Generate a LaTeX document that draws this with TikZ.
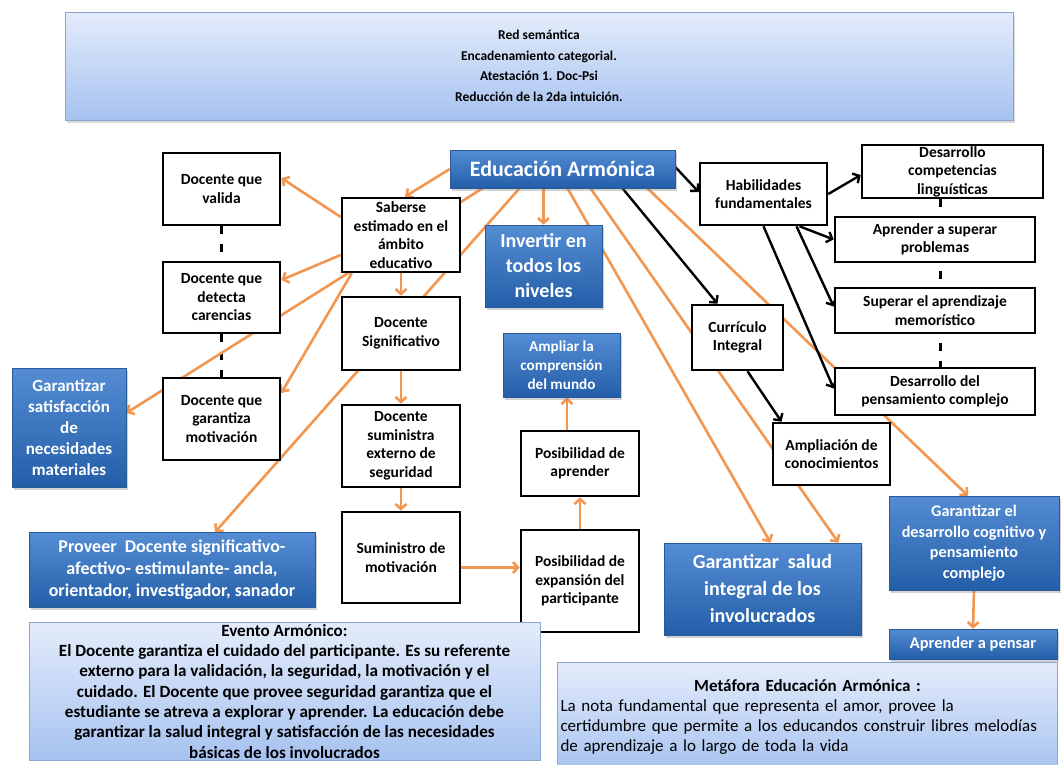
\documentclass[tikz,border=0pt]{standalone}
\usepackage{fontspec}
\setmainfont{Carlito}
\usetikzlibrary{arrows.meta,shadows,backgrounds}

\definecolor{naranja}{RGB}{243,150,80}
\definecolor{azulArriba}{RGB}{84,141,212}
\definecolor{azulAbajo}{RGB}{36,94,168}
\definecolor{azulBorde}{RGB}{40,90,150}
\definecolor{celesteArriba}{RGB}{228,236,251}
\definecolor{celesteAbajo}{RGB}{166,194,240}
\definecolor{celesteBorde}{RGB}{140,165,205}

\begin{document}
\begin{tikzpicture}[x=1pt,y=-1pt,
    caja/.style={draw=black,line width=2.6pt,fill=white,align=center,inner sep=0pt,
      font=\bfseries\fontsize{15.5}{18.5}\selectfont},
    azul/.style={draw=azulBorde,line width=0.6pt,top color=azulArriba,bottom color=azulAbajo,
      text=white,align=center,inner sep=0pt,
      drop shadow={shadow xshift=2pt,shadow yshift=-2.5pt,opacity=0.35}},
    nota/.style={draw=celesteBorde,line width=0.6pt,top color=celesteArriba,
      bottom color=celesteAbajo,inner sep=0pt},
    flecha/.style={draw=naranja,line width=2.6pt,-{Straight Barb[length=5pt,width=11pt]}},
    flechaNegra/.style={draw=black,line width=2.4pt,-{Straight Barb[length=5pt,width=11pt]}},
    guion/.style={draw=black,line width=3pt,dash pattern=on 8pt off 10pt},
  ]
  \useasboundingbox (0,0) rectangle (1061,764);

  % Encabezado
  \node[nota,align=center,minimum width=948pt,minimum height=108pt,
    drop shadow={shadow xshift=2pt,shadow yshift=-2.5pt,opacity=0.3},
    font=\bfseries\fontsize{13.5}{20.5}\selectfont] (titulo) at (539,66)
    {Red semántica\\Encadenamiento categorial.\\Atestación 1. Doc-Psi\\Reducción de la 2da intuición.};

  % Nodo central
  \node[azul,minimum width=225pt,minimum height=38pt,font=\bfseries\fontsize{22}{24}\selectfont]
    (educacion) at (562.5,169) {Educación Armónica};

  % Docentes a la izquierda
  \node[caja,minimum width=117pt,minimum height=72pt] (valida) at (221.5,189) {Docente que\\valida};
  \node[caja,minimum width=117pt,minimum height=71pt] (detecta) at (221.5,297.5) {Docente que\\detecta\\carencias};
  \node[caja,minimum width=117pt,minimum height=82pt] (garantiza) at (221.5,419) {Docente que\\garantiza\\motivación};
  \node[azul,minimum width=114pt,minimum height=119pt,font=\bfseries\fontsize{17}{21}\selectfont]
    (satisfaccion) at (69,427.5) {Garantizar\\satisfacción\\de\\necesidades\\materiales};

  % Cadena del docente
  \node[caja,minimum width=118pt,minimum height=74pt] (saberse) at (401,235) {Saberse\\estimado en el\\ámbito\\educativo};
  \node[caja,minimum width=118pt,minimum height=73pt] (significativo) at (401,333.5) {Docente\\Significativo};
  \node[caja,minimum width=118pt,minimum height=82pt] (seguridad) at (401,446) {Docente\\suministra\\externo de\\seguridad};
  \node[caja,minimum width=118pt,minimum height=91pt] (motivacion) at (401,557.5) {Suministro de\\motivación};
  \node[azul,minimum width=286pt,minimum height=75pt,font=\bfseries\fontsize{18}{22}\selectfont]
    (proveer) at (172,570) {Proveer~ Docente significativo-\\afectivo- estimulante- ancla,\\orientador, investigador, sanador};

  % Centro
  \node[azul,minimum width=117pt,minimum height=82pt,font=\bfseries\fontsize{20}{25}\selectfont]
    (invertir) at (543.5,266) {Invertir en\\todos los\\niveles};
  \node[azul,minimum width=117pt,minimum height=64pt,font=\bfseries\fontsize{15.2}{19}\selectfont]
    (comprension) at (561.5,365) {Ampliar la\\comprensión\\del mundo};
  \node[caja,minimum width=118pt,minimum height=65pt] (aprender) at (580,463.5) {Posibilidad de\\aprender};
  \node[caja,minimum width=118pt,minimum height=102pt] (expansion) at (580,581) {Posibilidad de\\expansión del\\participante};

  % Habilidades
  \node[caja,minimum width=127pt,minimum height=62pt] (habilidades) at (763.5,194) {Habilidades\\fundamentales};
  \node[caja,minimum width=181pt,minimum height=53pt] (linguisticas) at (952.5,171.5) {Desarrollo\\competencias\\linguísticas};
  \node[caja,minimum width=200pt,minimum height=45pt] (problemas) at (935,239.5) {Aprender a superar\\problemas};
  \node[caja,minimum width=200pt,minimum height=45pt] (memoristico) at (935,310.5) {Superar el aprendizaje\\memorístico};
  \node[caja,minimum width=200pt,minimum height=47pt] (complejo) at (935,391.5) {Desarrollo del\\pensamiento complejo};
  \node[caja,minimum width=91pt,minimum height=65pt] (curriculo) at (737.5,337.5) {Currículo\\Integral};
  \node[caja,minimum width=117pt,minimum height=62pt] (conocimientos) at (831.5,454) {Ampliación de\\conocimientos};

  % Metas
  \node[azul,minimum width=197pt,minimum height=92pt,font=\bfseries\fontsize{20}{27}\selectfont]
    (salud) at (762.5,589) {Garantizar~ salud\\integral de los\\involucrados};
  \node[azul,minimum width=170pt,minimum height=94pt,font=\bfseries\fontsize{16.2}{20.5}\selectfont]
    (cognitivo) at (974,543) {Garantizar el\\desarrollo cognitivo y\\pensamiento\\complejo};
  \node[azul,minimum width=168pt,minimum height=30pt,font=\bfseries\fontsize{16.4}{18}\selectfont]
    (pensar) at (973,644) {Aprender a pensar};

  % Notas de abajo
  \node[nota,anchor=north,align=center,minimum width=511pt,inner ysep=2pt,
    font=\bfseries\fontsize{17.1}{20.3}\selectfont] (evento) at (284.5,622)
    {Evento Armónico:\\
     El Docente garantiza el cuidado del participante. Es su referente\\
     externo para la validación, la seguridad, la motivación y el\\
     cuidado. El Docente que provee seguridad garantiza que el\\
     estudiante se atreva a explorar y aprender. La educación debe\\
     garantizar la salud integral y satisfacción de las necesidades\\
     básicas de los involucrados};
  \node[nota,anchor=north,align=left,text width=494pt,minimum height=110pt,
    inner xsep=3pt,inner ysep=13pt,font=\fontsize{17}{20}\selectfont] (metafora) at (807.5,662)
    {\makebox[494pt]{\bfseries Metáfora Educación Armónica :}\\
     La nota fundamental que representa el amor, provee la\\
     certidumbre que permite a los educandos construir libres melodías\\
     de aprendizaje a lo largo de toda la vida};

  \begin{pgfonlayer}{background}
    \fill[white] (0,0) rectangle (1061,764);

    % Lineas punteadas
    \draw[guion] (valida.south) -- (garantiza.north);
    \draw[guion] ([xshift=-12.5pt]linguisticas.south) -- ([xshift=-12.5pt]linguisticas.south |- complejo.north);

    % Flechas naranjas
    \draw[flecha] (educacion.west) -- ([xshift=4pt]saberse.north);
    \draw[flecha] (educacion.south -| invertir.north) -- (invertir.north);
    \draw[flecha] ([xshift=-80pt]educacion.south) -- ([yshift=14.5pt]satisfaccion.east);
    \draw[flecha] ([xshift=-43pt]educacion.south) -- ([xshift=43pt]proveer.north);
    \draw[flecha] ([xshift=5pt]educacion.south) -- ([xshift=8pt]salud.north);
    \draw[flecha] ([xshift=28pt]educacion.south) -- ([xshift=76pt]salud.north);
    \draw[flecha] ([xshift=85pt]educacion.south) -- ([xshift=-6pt]cognitivo.north);
    \draw[flecha] ([yshift=18pt]saberse.west) -- ([yshift=11pt]valida.east);
    \draw[flecha] ([yshift=-20pt]saberse.west) -- ([yshift=17.5pt]detecta.east);
    \draw[flecha] ([xshift=11pt]saberse.south west) -- ([yshift=26pt]garantiza.east);
    \draw[flecha] (saberse.south) -- (significativo.north);
    \draw[flecha] (significativo.south) -- (seguridad.north);
    \draw[flecha] (seguridad.south) -- (motivacion.north);
    \draw[flecha] ([yshift=-10pt]motivacion.east) -- ([yshift=-10pt]motivacion.east -| expansion.west);
    \draw[flecha] (expansion.north) -- (aprender.south);
    \draw[flecha] ([xshift=-13pt]aprender.north) -- ([xshift=-13pt]aprender.north |- comprension.south);
    \draw[flecha] (cognitivo.south) -- (pensar.north);

    % Flechas negras
    \draw[flechaNegra] ([yshift=2pt]educacion.east) -- ([yshift=2pt]habilidades.west);
    \draw[flechaNegra] ([xshift=60pt]educacion.south) -- ([xshift=-20pt]curriculo.north);
    \draw[flechaNegra] (habilidades.east) -- ([yshift=-3.5pt]linguisticas.west);
    \draw[flechaNegra] ([xshift=36pt]habilidades.south) -- (problemas.west);
    \draw[flechaNegra] ([xshift=33pt]habilidades.south) -- ([yshift=4pt]memoristico.west);
    \draw[flechaNegra] (habilidades.south) -- ([yshift=3pt]complejo.west);
    \draw[flechaNegra] ([xshift=10pt]curriculo.south) -- ([xshift=-50pt]conocimientos.north);
  \end{pgfonlayer}
\end{tikzpicture}
\end{document}
